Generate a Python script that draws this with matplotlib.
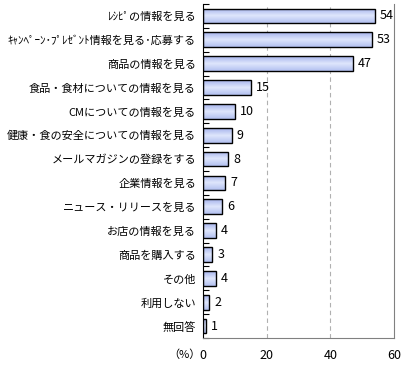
import numpy as np
import matplotlib
matplotlib.use('Agg')
import matplotlib.pyplot as plt
from matplotlib.colors import LinearSegmentedColormap

plt.rcParams['font.family'] = ['Noto Sans CJK JP', 'DejaVu Sans']

# données
categories = ['ﾚｼﾋﾟの情報を見る', 'ｷｬﾝﾍﾟｰﾝ･ﾌﾟﾚｾﾞﾝﾄ情報を見る･応募する', '商品の情報を見る',
              '食品・食材についての情報を見る', 'CMについての情報を見る',
              '健康・食の安全についての情報を見る', 'メールマガジンの登録をする',
              '企業情報を見る', 'ニュース・リリースを見る', 'お店の情報を見る',
              '商品を購入する', 'その他', '利用しない', '無回答']
valeurs = [54, 53, 47, 15, 10, 9, 8, 7, 6, 4, 3, 4, 2, 1]
xticks = [0, 20, 40, 60]

fig = plt.figure(figsize=(4.05, 3.65), dpi=100)
ax = fig.add_axes([0.501, 0.074, 0.472, 0.915])

y = np.arange(len(categories))
h = 0.62
cmap = LinearSegmentedColormap.from_list('bleu', ['#a6b4ec', '#dfe6fc', '#b2c0f0'])
grad = np.linspace(0, 1, 50).reshape(-1, 1)

bars = ax.barh(y, valeurs, height=h, color='none', edgecolor='black', linewidth=1.0, zorder=3)
for b in bars:
    x0, y0 = b.get_x(), b.get_y()
    im = ax.imshow(grad, cmap=cmap, aspect='auto', origin='upper',
                   extent=[x0, x0 + b.get_width(), y0 + h, y0], zorder=2)
    im.set_clip_path(b)

for yi, v in zip(y, valeurs):
    ax.text(v + 1.6, yi, str(v), va='center', ha='left', fontsize=9)

ax.set_xlim(0, 60)
ax.set_ylim(len(categories) - 0.5, -0.5)
ax.set_xticks(xticks)
ax.set_xticklabels([str(t) for t in xticks], fontsize=9)
ax.tick_params(axis='x', length=0, pad=8)
ax.set_yticks(y)
ax.set_yticklabels(categories, fontsize=8)
ax.tick_params(axis='y', which='major', length=0, pad=5)
ax.set_yticks(np.arange(-0.5, len(categories), 1), minor=True)
ax.tick_params(axis='y', which='minor', direction='in', length=4, width=0.8, color='black')

for gx in [20, 40]:
    ax.axvline(gx, color='#b0b0b0', linestyle=(0, (4, 3)), linewidth=0.8, zorder=1)

ax.spines['top'].set_visible(False)
ax.spines['left'].set_color('black')
ax.spines['right'].set_color('#808080')
ax.spines['bottom'].set_color('#808080')

ax.text(-0.095, -0.05, '（%）', transform=ax.transAxes, ha='center', va='center', fontsize=8)

fig.savefig('out.png', dpi=100)
